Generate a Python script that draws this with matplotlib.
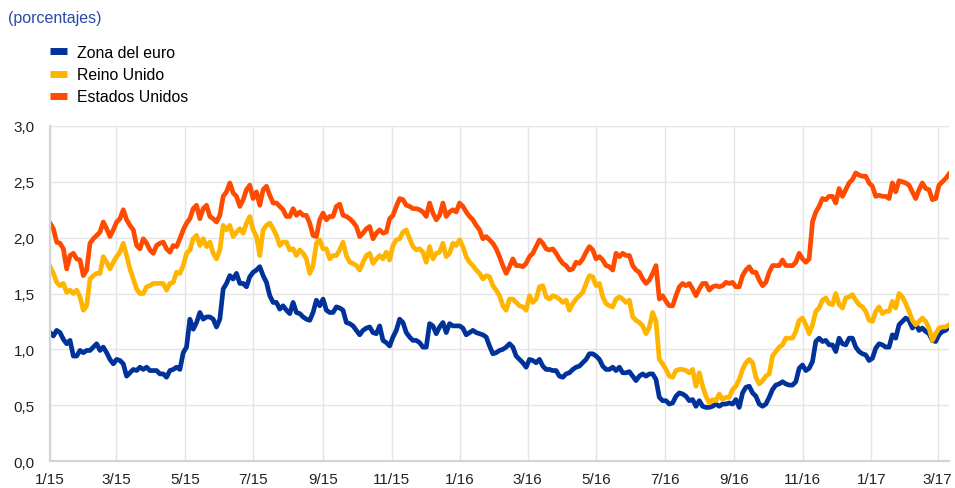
import numpy as np
import pandas as pd
import matplotlib
matplotlib.use("Agg")
import matplotlib.pyplot as plt
import matplotlib.dates as mdates
from matplotlib.lines import Line2D
from matplotlib.ticker import FuncFormatter, MultipleLocator

plt.rcParams["font.family"] = ["Liberation Sans", "DejaVu Sans"]

# roughly every 3 days, 1 Jan 2015 .. 11 Mar 2017
dates = pd.date_range("2015-01-01", "2017-03-11", periods=271)

zona_euro = [
    1.15, 1.12, 1.17, 1.15, 1.09, 1.05, 1.08, 0.94, 0.94, 0.99,
    0.97, 0.99, 0.99, 1.02, 1.05, 0.99, 1.02, 0.97, 0.91, 0.87,
    0.91, 0.90, 0.87, 0.76, 0.79, 0.82, 0.81, 0.84, 0.82, 0.84,
    0.81, 0.81, 0.81, 0.78, 0.78, 0.75, 0.81, 0.82, 0.84, 0.82,
    0.97, 1.02, 1.27, 1.18,
    1.24, 1.33, 1.27, 1.29, 1.29, 1.27, 1.20, 1.27, 1.54, 1.59,
    1.66, 1.63, 1.68, 1.59, 1.59, 1.56, 1.65, 1.69, 1.71, 1.74,
    1.66, 1.60, 1.48, 1.42, 1.42, 1.36, 1.39, 1.35, 1.32, 1.42,
    1.33, 1.32, 1.29, 1.27, 1.26, 1.33, 1.44, 1.39, 1.45, 1.35,
    1.33, 1.33, 1.38,
    1.37, 1.35, 1.24, 1.23, 1.21, 1.17, 1.13, 1.17, 1.19, 1.20,
    1.15, 1.14, 1.21, 1.08, 1.06, 1.03, 1.11, 1.17, 1.27, 1.24,
    1.15, 1.11, 1.08, 1.08, 1.06, 1.02, 1.02, 1.23, 1.21, 1.14,
    1.20, 1.24, 1.15, 1.23, 1.21, 1.21, 1.21, 1.19, 1.13, 1.15,
    1.17, 1.15, 1.14, 1.13, 1.11,
    1.03, 0.96, 0.97, 0.99, 1.00, 1.02, 1.05, 1.02, 0.94, 0.91,
    0.88, 0.84, 0.91, 0.90, 0.88, 0.91, 0.85, 0.82, 0.82, 0.81,
    0.81, 0.76, 0.75, 0.78, 0.79, 0.82, 0.84, 0.85, 0.88, 0.91,
    0.96, 0.96, 0.94, 0.91, 0.85, 0.82, 0.82, 0.84, 0.81, 0.84,
    0.79, 0.79, 0.80,
    0.76, 0.72, 0.76, 0.78, 0.76, 0.78, 0.78, 0.73, 0.57, 0.54,
    0.54, 0.51, 0.52, 0.58, 0.61, 0.60, 0.58, 0.54, 0.55, 0.49,
    0.54, 0.49, 0.48, 0.48, 0.49, 0.51, 0.49, 0.51, 0.51, 0.52,
    0.51, 0.55, 0.48, 0.61, 0.66, 0.67, 0.61, 0.58, 0.51, 0.49,
    0.51, 0.57, 0.64,
    0.68, 0.69, 0.71, 0.69, 0.68, 0.68, 0.71, 0.83, 0.86, 0.81,
    0.83, 0.89, 1.07, 1.10, 1.07, 1.08, 1.04, 1.04, 0.98, 1.10,
    1.05, 1.04, 1.10, 1.10, 1.02, 0.98, 0.96, 0.95, 0.90, 0.92,
    1.01, 1.05, 1.04, 1.02, 1.02, 1.13, 1.10, 1.22, 1.25, 1.28,
    1.26, 1.19, 1.23, 1.17, 1.19, 1.16, 1.14, 1.08, 1.07, 1.13,
    1.16, 1.17, 1.20,
]

reino_unido = [
    1.74, 1.68, 1.60, 1.57, 1.59, 1.51, 1.53, 1.50, 1.53, 1.47,
    1.35, 1.39, 1.63, 1.66, 1.68, 1.68, 1.83, 1.78, 1.72, 1.78,
    1.83, 1.87, 1.95, 1.84, 1.72, 1.63, 1.54, 1.50, 1.50, 1.56,
    1.57, 1.59, 1.59, 1.59, 1.59, 1.53, 1.59, 1.60, 1.69, 1.68,
    1.75, 1.86, 1.89, 1.99,
    2.02, 1.93, 1.99, 1.92, 1.96, 1.86, 1.81, 1.89, 2.11, 2.07,
    2.11, 2.01, 2.05, 2.08, 2.04, 2.13, 2.19, 2.07, 2.01, 1.84,
    2.07, 2.11, 2.13, 2.08, 2.02, 1.93, 1.96, 1.96, 1.89, 1.90,
    1.84, 1.89, 1.86, 1.81, 1.68, 1.75, 1.95, 1.98, 1.90, 1.90,
    1.81, 1.84, 1.84,
    1.89, 1.96, 1.84, 1.78, 1.77, 1.75, 1.71, 1.78, 1.84, 1.86,
    1.77, 1.81, 1.84, 1.81, 1.87, 1.80, 1.93, 1.98, 1.99, 2.05,
    2.07, 1.99, 1.92, 1.89, 1.90, 1.87, 1.78, 1.92, 1.81, 1.86,
    1.87, 1.95, 1.83, 1.86, 1.95, 1.93, 1.98, 1.92, 1.83, 1.78,
    1.75, 1.71, 1.68, 1.63, 1.66,
    1.65, 1.57, 1.53, 1.48, 1.39, 1.35, 1.45, 1.45, 1.42, 1.39,
    1.38, 1.35, 1.48, 1.42, 1.45, 1.56, 1.57, 1.47, 1.45, 1.48,
    1.47, 1.45, 1.42, 1.44, 1.35, 1.41, 1.45, 1.48, 1.51, 1.59,
    1.66, 1.65, 1.57, 1.59, 1.47, 1.41, 1.39, 1.38, 1.45, 1.47,
    1.45, 1.42, 1.44,
    1.29, 1.26, 1.24, 1.21, 1.14, 1.20, 1.33, 1.25, 0.91, 0.87,
    0.82, 0.76, 0.75, 0.81, 0.82, 0.82, 0.81, 0.79, 0.82, 0.67,
    0.79, 0.67, 0.58, 0.52, 0.55, 0.54, 0.60, 0.55, 0.57, 0.57,
    0.64, 0.67, 0.73, 0.82, 0.88, 0.91, 0.88, 0.75, 0.69, 0.72,
    0.76, 0.78, 0.94,
    0.98, 1.02, 1.04, 1.10, 1.10, 1.10, 1.16, 1.26, 1.28, 1.22,
    1.14, 1.22, 1.34, 1.37, 1.44, 1.46, 1.41, 1.40, 1.50, 1.40,
    1.37, 1.46, 1.47, 1.49, 1.44, 1.40, 1.38, 1.34, 1.26, 1.25,
    1.34, 1.38, 1.32, 1.34, 1.34, 1.43, 1.37, 1.50, 1.47, 1.41,
    1.34, 1.26, 1.22, 1.25, 1.28, 1.25, 1.19, 1.08, 1.14, 1.19,
    1.20, 1.20, 1.22,
]

estados_unidos = [
    2.13, 2.08, 1.96, 1.95, 1.90, 1.72, 1.84, 1.86, 1.81, 1.80,
    1.66, 1.71, 1.95, 1.99, 2.02, 2.05, 2.14, 2.08, 2.01, 2.07,
    2.14, 2.17, 2.25, 2.16, 2.11, 2.07, 1.93, 1.90, 1.99, 1.95,
    1.89, 1.86, 1.93, 1.95, 1.96, 1.90, 1.87, 1.93, 1.92, 1.99,
    2.07, 2.13, 2.17, 2.26,
    2.29, 2.17, 2.26, 2.29, 2.19, 2.17, 2.14, 2.20, 2.37, 2.41,
    2.49, 2.40, 2.37, 2.28, 2.34, 2.43, 2.47, 2.35, 2.41, 2.29,
    2.43, 2.46, 2.38, 2.31, 2.31, 2.28, 2.25, 2.19, 2.19, 2.26,
    2.20, 2.23, 2.20, 2.20, 2.13, 2.02, 2.01, 2.16, 2.22, 2.16,
    2.19, 2.19, 2.28,
    2.30, 2.20, 2.19, 2.17, 2.14, 2.10, 2.01, 2.04, 2.08, 2.10,
    1.99, 2.04, 2.07, 2.04, 2.05, 2.17, 2.20, 2.28, 2.35, 2.34,
    2.29, 2.28, 2.26, 2.26, 2.25, 2.23, 2.19, 2.31, 2.22, 2.16,
    2.20, 2.31, 2.19, 2.23, 2.25, 2.23, 2.31, 2.28, 2.23, 2.19,
    2.16, 2.11, 2.07, 1.99, 2.01,
    1.98, 1.95, 1.90, 1.83, 1.75, 1.68, 1.74, 1.81, 1.75, 1.75,
    1.74, 1.77, 1.83, 1.86, 1.92, 1.98, 1.95, 1.90, 1.89, 1.90,
    1.86, 1.81, 1.77, 1.75, 1.71, 1.72, 1.78, 1.77, 1.81, 1.87,
    1.92, 1.89, 1.81, 1.83, 1.80, 1.75, 1.74, 1.71, 1.86, 1.83,
    1.86, 1.84, 1.84,
    1.75, 1.71, 1.69, 1.63, 1.59, 1.62, 1.68, 1.75, 1.45, 1.48,
    1.43, 1.39, 1.39, 1.48, 1.56, 1.59, 1.57, 1.59, 1.54, 1.48,
    1.54, 1.59, 1.59, 1.53, 1.56, 1.57, 1.56, 1.57, 1.60, 1.59,
    1.60, 1.56, 1.56, 1.66, 1.71, 1.74, 1.69, 1.69, 1.62, 1.57,
    1.60, 1.69, 1.75,
    1.75, 1.75, 1.80, 1.75, 1.75, 1.75, 1.78, 1.86, 1.81, 1.78,
    1.81, 2.14, 2.23, 2.28, 2.35, 2.34, 2.37, 2.37, 2.31, 2.44,
    2.37, 2.43, 2.49, 2.52, 2.58, 2.56, 2.55, 2.55, 2.49, 2.46,
    2.37, 2.38, 2.37, 2.37, 2.35, 2.49, 2.41, 2.51, 2.50, 2.49,
    2.47, 2.41, 2.35, 2.43, 2.49, 2.44, 2.43, 2.34, 2.35, 2.47,
    2.50, 2.53, 2.57,
]

series = [
    ("Zona del euro", zona_euro, "#003299"),
    ("Reino Unido", reino_unido, "#ffb400"),
    ("Estados Unidos", estados_unidos, "#ff4b00"),
]

fig = plt.figure(figsize=(9.55, 4.89), dpi=100)
ax = fig.add_axes([0.0524, 0.0552, 0.9413, 0.6851])

for name, vals, color in series:
    ax.plot(dates, vals, color=color, lw=3.4, solid_joinstyle="round", label=name)

ax.set_ylim(0, 3.0)
ax.set_xlim(pd.Timestamp("2015-01-01"), pd.Timestamp("2017-03-11"))
ax.yaxis.set_major_locator(MultipleLocator(0.5))
ax.yaxis.set_major_formatter(FuncFormatter(lambda v, _: f"{v:.1f}".replace(".", ",")))
ax.xaxis.set_major_locator(mdates.MonthLocator(bymonth=[1, 3, 5, 7, 9, 11]))
ax.xaxis.set_major_formatter(FuncFormatter(
    lambda v, _: f"{mdates.num2date(v).month}/{mdates.num2date(v):%y}"))

ax.grid(True, color="#e4e4e4", lw=1.0)
ax.set_axisbelow(True)
for s in ["top", "right"]:
    ax.spines[s].set_visible(False)
for s in ["left", "bottom"]:
    ax.spines[s].set_color("#d4d4d4")
    ax.spines[s].set_linewidth(1.6)
ax.tick_params(length=0, labelsize=11, colors="#222222")
ax.tick_params(axis="y", pad=11)
ax.tick_params(axis="x", pad=8)

handles = [Line2D([], [], color=c, lw=5, solid_capstyle="butt") for _, _, c in series]
fig.legend(handles, [n for n, _, _ in series], loc="upper left",
           bbox_to_anchor=(0.0524, 0.906), frameon=False, fontsize=11.4,
           handlelength=1.08, handletextpad=0.63, labelspacing=0.45,
           borderpad=0, borderaxespad=0)

fig.text(8 / 955, 1 - 18 / 489, "(porcentajes)", color="#2a4aa8",
         fontsize=11.5, va="center", ha="left")

fig.savefig("out.png", dpi=100)
